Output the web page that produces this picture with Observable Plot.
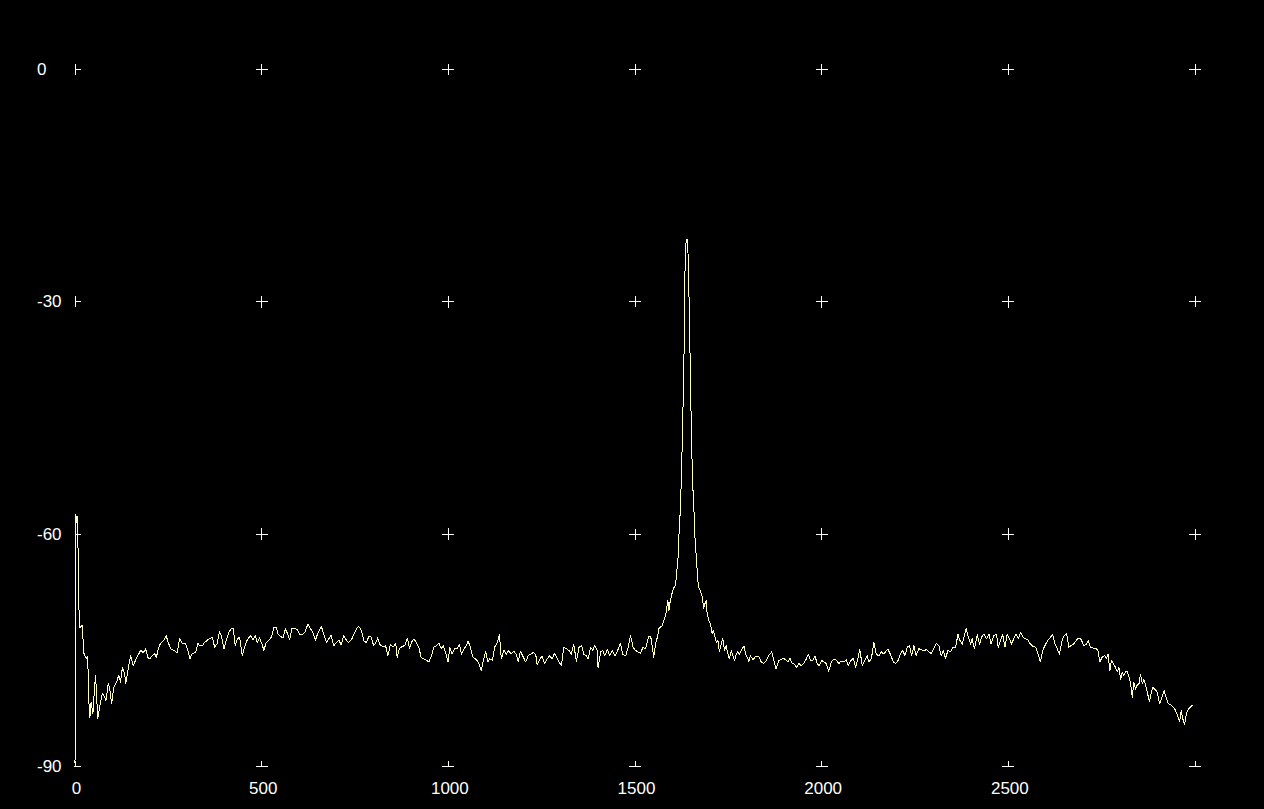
<!DOCTYPE html>
<html>
<head>
<meta charset="utf-8">
<script src="https://cdn.jsdelivr.net/npm/d3@7"></script>
<script src="https://cdn.jsdelivr.net/npm/@observablehq/plot@0.6"></script>
<style>
  html, body { margin: 0; padding: 0; background: #000; overflow: hidden; }
</style>
</head>
<body>
<div id="chart"></div>
<script>
// Spectrum: frequency (x) and level in dB (y)
const freq = [0,2,5,6,8,10,13,19,24,30,34,37,40,43,48,50,55,61,66,73,77,83,89,93,98,104,113,117,122,127,133,136,143,149,156,162,168,176,183,189,195,200,207,213,218,223,229,238,244,250,256,265,274,280,287,296,302,308,314,323,329,334,341,347,354,360,368,374,381,387,392,399,405,412,418,424,429,435,441,448,454,461,
470,477,483,488,494,500,506,512,519,526,533,539,544,551,557,564,568,575,581,588,595,602,610,616,624,631,637,644,651,660,666,674,680,686,693,700,707,713,720,727,733,741,747,754,760,767,774,781,787,793,800,807,811,818,826,832,838,845,852,859,863,869,876,883,890,896,901,908,914,921,927,934,942,948,955,961,968,975,981,986,992,999,1004,1010,1017,1024,1030,1035,1042,1048,1053,1059,1066,1073,1080,1088,1093,1100,1106,1111,1118,1124,1131,1137,1142,1149,1155,1162,1168,1175,1182,1187,1193,1201,1207,1214,1220,1227,1234,1238,1244,1251,1258,1265,1271,1278,1284,1290,1296,1303,1309,1316,1323,1329,1336,1343,1350,1357,1363,1369,1375,1381,1387,1392,1399,1401,1408,1414,1419,1426,1432,1439,1446,1452,1461,1467,1475,1482,1488,1495,1501,1508,1515,1521,1528,1537,
1542,1546,1550,1555,1560,1564,1568,1573,1577,1582,1584,1588,1591,1593,1597,1601,1604,1609,1611,1615,1617,1621,1624,1627,1631,1633,1637,1641,1644,1648,1651,1654,1658,1661,1665,1668,1671,1675,1680,1684,1687,1691,1693,1698,1702,1707,1710,1713,1718,1722,1726,1731,1735,1740,1744,1749,1753,1758,1762,1767,1771,1775,1780,1785,1792,1796,1801,1805,1809,1816,1823,1832,1838,1845,1852,1858,1866,1872,1878,1885,
1890,1897,1903,1909,1915,1921,1927,1933,1939,1945,1952,1959,1964,1970,1976,1982,1988,1994,2000,2006,2012,2019,2026,2033,2040,2046,2052,2059,2066,2071,2077,2085,2091,2097,2102,2109,2115,2122,2126,2133,2140,2146,2153,2160,2167,2173,2178,2184,2192,2198,2205,2211,2217,2223,2229,2235,2241,2247,2253,2260,2267,2274,2280,2287,2293,2300,2307,2314,2320,2326,2332,2338,2345,2351,2359,2365,2370,2377,2381,2387,2393,2399,2403,2409,2417,2423,2428,2434,2442,2448,2454,2461,2468,2473,2479,2485,2491,2497,2503,2509,2515,2521,2527,2533,2539,2546,2552,2559,2566,2573,2580,2586,2592,2600,2606,2613,2619,2625,2631,2637,2644,2650,2656,2662,2668,2675,2682,2689,2695,2702,2709,2714,2720,2726,2734,2740,2745,
2751,2758,2763,2767,2772,2776,2781,2787,2792,2796,2801,2805,2809,2814,2818,2823,2827,2832,2836,2841,2845,2850,2854,2859,2863,2868,2872,2878,2883,2887,2892,2899,2905,2910,2917,2923,2928,2934,2941,2946,2952,2959,2963,2967,2972,2977,2982,2986,2993];
const db = [-90,-57.4,-58.5,-57.7,-61.5,-69.0,-72.1,-71.8,-75.4,-76.1,-75.8,-81.5,-83.7,-81.7,-83.2,-81.5,-78.2,-83.8,-82.3,-80.6,-80.8,-81.5,-79.3,-79.9,-81.9,-79.8,-78.9,-78.2,-79.1,-77.2,-78.0,-79.3,-77.2,-75.7,-77.0,-76.3,-75.7,-75.0,-75.3,-74.8,-75.9,-76.1,-75.7,-75.4,-75.9,-74.8,-74.1,-73.7,-73.1,-74.0,-74.8,-75.0,-75.3,-73.5,-74.1,-74.1,-75.0,-76.1,-75.4,-75.3,-74.1,-74.4,-74.4,-74.0,-73.7,-73.5,-73.3,-74.6,-74.1,-72.6,-73.1,-74.8,-73.7,-72.7,-72.2,-72.2,-74.4,-73.5,-73.3,-75.7,-74.6,-73.7,
-73.1,-73.7,-73.1,-74.0,-73.4,-74.1,-75.0,-74.0,-73.7,-73.3,-72.0,-72.0,-72.9,-73.2,-73.4,-72.2,-72.7,-73.6,-72.2,-72.2,-72.3,-73.0,-72.9,-72.6,-71.6,-72.2,-72.7,-73.7,-72.7,-71.9,-72.9,-74.0,-73.5,-73.0,-74.4,-74.0,-73.7,-74.3,-73.1,-73.7,-74.0,-73.6,-72.9,-72.2,-71.9,-72.4,-73.8,-74.0,-73.2,-73.3,-74.4,-73.9,-73.4,-74.4,-74.5,-74.4,-75.7,-74.2,-74.6,-74.1,-75.9,-74.8,-74.5,-74.4,-73.4,-74.7,-74.0,-73.5,-74.0,-74.6,-75.9,-76.1,-76.3,-76.5,-75.7,-74.6,-74.4,-74.1,-74.8,-74.4,-75.2,-76.5,-74.6,-75.5,-74.8,-74.8,-74.2,-75.5,-74.8,-74.4,-73.8,-74.6,-75.9,-76.1,-76.5,-77.6,-76.5,-75.2,-76.5,-76.1,-76.3,-74.6,-74.0,-73.0,-76.1,-75.0,-75.5,-75.0,-75.5,-75.1,-75.5,-76.5,-75.1,-75.9,-76.5,-75.7,-75.5,-75.3,-75.5,-76.9,-76.3,-75.7,-76.7,-76.1,-75.7,-76.1,-75.4,-75.9,-76.5,-76.9,-74.6,-74.8,-75.0,-75.5,-74.2,-76.5,-74.6,-74.4,-75.5,-75.7,-76.1,-74.6,-75.0,-74.4,-75.0,-77.2,-75.2,-75.0,-75.7,-74.9,-75.7,-75.0,-75.7,-75.2,-74.1,-75.5,-75.7,-74.6,-73.1,-74.6,-75.0,-75.2,-75.4,-74.6,-74.8,-73.2,
-73.2,-74.4,-75.9,-74.2,-73.3,-72.2,-72.0,-71.8,-71.2,-70.5,-69.9,-68.6,-69.9,-69.0,-68.1,-67.3,-66.9,-66.6,-65.1,-63.4,-60.8,-57.2,-53.2,-47.2,-38.3,-27.4,-21.9,-21.9,-27.4,-38.3,-46.8,-52.9,-57.1,-60.8,-63.4,-66.0,-66.9,-67.3,-68.1,-69.6,-69.0,-68.6,-70.1,-71.2,-71.6,-72.9,-72.4,-73.1,-74.0,-73.7,-75.2,-74.2,-73.5,-75.0,-74.4,-75.5,-76.1,-75.0,-75.7,-76.3,-75.5,-75.2,-75.5,-75.0,-74.4,-75.5,-75.9,-76.5,-75.7,-76.2,-75.8,-75.8,-76.5,-76.7,-76.3,-75.7,-75.2,-76.3,-77.4,-76.3,
-76.2,-76.0,-76.2,-76.5,-76.0,-76.7,-76.8,-77.2,-76.7,-77.0,-76.7,-76.1,-75.5,-76.3,-76.3,-75.7,-76.7,-77.0,-76.3,-76.5,-76.7,-77.7,-76.5,-76.1,-76.3,-76.7,-76.4,-76.5,-76.2,-77.0,-76.4,-76.0,-77.2,-76.1,-74.9,-77.0,-76.3,-75.7,-76.5,-76.1,-74.0,-75.5,-75.7,-75.2,-75.5,-75.0,-74.9,-75.5,-76.5,-76.7,-76.3,-75.5,-75.0,-75.7,-74.6,-74.4,-75.7,-74.4,-75.7,-74.8,-74.9,-75.1,-74.9,-75.2,-75.4,-74.8,-74.1,-74.4,-75.7,-75.0,-76.1,-75.0,-75.2,-74.6,-74.6,-72.9,-73.7,-74.2,-73.3,-72.2,-73.3,-74.2,-73.5,-74.8,-73.0,-74.2,-73.3,-72.9,-73.5,-72.9,-74.2,-73.1,-72.9,-74.6,-73.7,-73.0,-74.6,-72.9,-73.5,-74.2,-73.4,-72.9,-73.5,-72.7,-73.3,-73.5,-73.6,-74.2,-74.5,-74.6,-75.5,-76.5,-75.0,-74.2,-73.7,-73.3,-73.0,-74.2,-74.8,-75.5,-73.7,-73.1,-72.8,-74.6,-74.4,-74.2,-73.7,-73.4,-73.6,-74.4,-74.2,-73.7,-74.6,-74.7,-74.7,-75.0,-76.5,
-75.9,-75.7,-76.0,-75.5,-77.6,-76.3,-76.7,-77.2,-77.8,-77.2,-78.8,-77.8,-78.3,-77.8,-77.7,-78.4,-79.1,-81.1,-79.1,-80.0,-79.5,-79.3,-78.1,-79.3,-78.8,-79.5,-80.4,-81.6,-80.4,-79.8,-80.0,-80.4,-81.9,-81.3,-80.2,-81.1,-81.9,-82.0,-82.3,-82.6,-83.2,-84.2,-82.8,-83.8,-84.6,-83.2,-82.6,-82.4,-82.1];

// Grid / tick values
const xGridTicks = [0, 500, 1000, 1500, 2000, 2500, 3000];
const xLabelTicks = [0, 500, 1000, 1500, 2000, 2500];
const yTicks = [0, -30, -60, -90];

const spectrum = freq.map((f, i) => ({freq: f, db: db[i]}));

// "+" markers at grid intersections, built from arms (clipped at left column / bottom row)
const arms = [];
for (const xv of xGridTicks) {
  for (const yv of yTicks) {
    arms.push({x: xv, y: yv, rotate: 0});
    arms.push({x: xv, y: yv, rotate: 90});
    if (yv !== -90) arms.push({x: xv, y: yv, rotate: 180});
    if (xv !== 0) arms.push({x: xv, y: yv, rotate: 270});
  }
}
const armShape = {
  draw(context, length) {
    context.moveTo(0, 0);
    context.lineTo(0, -length);
  }
};

const chart = Plot.plot({
  width: 1264,
  height: 809,
  marginLeft: 74.5,
  marginRight: 69.5,
  marginTop: 69,
  marginBottom: 43,
  style: {
    background: "#000",
    color: "#fff",
    fontFamily: "'Liberation Sans', Arial, sans-serif",
    fontSize: "17px"
  },
  x: {domain: [0, 3000]},
  y: {domain: [-90, 0]},
  marks: [
    Plot.vector(arms, {
      x: "x", y: "y", rotate: "rotate", length: 5.5, anchor: "start",
      shape: armShape, stroke: "#fff", strokeWidth: 1, shapeRendering: "crispEdges"
    }),
    Plot.line(spectrum, {x: "freq", y: "db", stroke: "#ffffc0", strokeWidth: 1, shapeRendering: "crispEdges"}),
    Plot.axisX({ticks: xLabelTicks, tickFormat: d => String(d), tickSize: 0, tickPadding: 15, dx: 1.5, fill: "#fff", fontSize: 17, label: null}),
    Plot.axisY({ticks: yTicks, tickFormat: d => String(d), tickSize: 0, tickPadding: 0, textAnchor: "start", dx: -38, fill: "#fff", fontSize: 17, label: null})
  ]
});
document.getElementById("chart").appendChild(chart);
</script>
</body>
</html>
